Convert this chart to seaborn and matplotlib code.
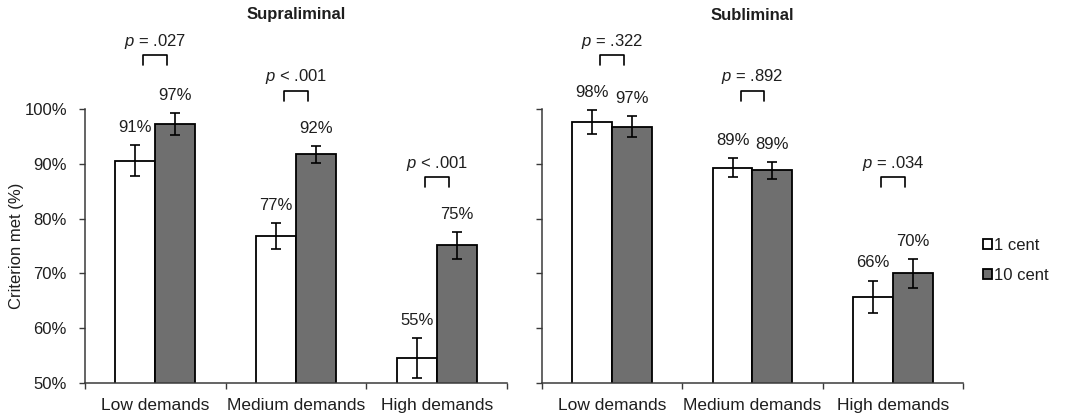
import numpy as np
import pandas as pd
import matplotlib
matplotlib.use("Agg")
import matplotlib.pyplot as plt
import seaborn as sns

# ---------------- data ----------------
demands = ["Low demands", "Medium demands", "High demands"]
rewards = ["1 cent", "10 cent"]
panels = ["Supraliminal", "Subliminal"]

supra_1cent = [90.6, 76.8, 54.6]
supra_10cent = [97.3, 91.7, 75.1]
supra_1cent_err = [2.8, 2.35, 3.6]
supra_10cent_err = [2.0, 1.6, 2.4]

sub_1cent = [97.6, 89.3, 65.7]
sub_10cent = [96.8, 88.8, 70.0]
sub_1cent_err = [2.2, 1.8, 3.0]
sub_10cent_err = [2.0, 1.5, 2.6]

supra_p = ["= .027", "< .001", "< .001"]
sub_p = ["= .322", "= .892", "= .034"]

yticks = [50, 60, 70, 80, 90, 100]
ytick_labels = ["50%", "60%", "70%", "80%", "90%", "100%"]

# ---------------- table ----------------
rows = []
for panel, v1, v10, e1, e10 in [
    ("Supraliminal", supra_1cent, supra_10cent, supra_1cent_err, supra_10cent_err),
    ("Subliminal", sub_1cent, sub_10cent, sub_1cent_err, sub_10cent_err),
]:
    for r, vals, errs in [("1 cent", v1, e1), ("10 cent", v10, e10)]:
        for d, v, e in zip(demands, vals, errs):
            rows.append(dict(panel=panel, demand=d, reward=r, value=v, err=e))
df = pd.DataFrame(rows)
pvals = {"Supraliminal": supra_p, "Subliminal": sub_p}

# ---------------- style ----------------
sns.set_style("white")
plt.rcParams["font.family"] = ["Liberation Sans", "DejaVu Sans"]
plt.rcParams["mathtext.fontset"] = "custom"
plt.rcParams["mathtext.rm"] = "Liberation Sans"
plt.rcParams["mathtext.it"] = "Liberation Sans:italic"
TXT = "#1e1e1e"
SPINE = "#3a3a3a"
FS = 12

fig = plt.figure(figsize=(10.71, 4.19), dpi=100)
ax1 = fig.add_axes([85 / 1071, 36 / 419, 422 / 1071, 274 / 419])
ax2 = fig.add_axes([542 / 1071, 36 / 419, 421 / 1071, 274 / 419])
axes = [ax1, ax2]

# bracket level per demand: above the highest error bar in either panel
tops = (df["value"] + df["err"]).groupby(df["demand"]).max()
bracket_levels = [tops[d] + 10 for d in demands]

for i, (ax, panel) in enumerate(zip(axes, panels)):
    sub = df[df["panel"] == panel]
    sns.barplot(data=sub, x="demand", y="value", hue="reward",
                order=demands, hue_order=rewards,
                palette=["white", "#6f6f6f"], edgecolor="black", linewidth=1.3,
                width=0.57, errorbar=None, ax=ax, legend=(i == 1), zorder=2)

    bars = [p for p in ax.patches if p.get_height() > 0][:6]
    for k, p in enumerate(bars):
        r = rewards[k // 3]
        d = demands[k % 3]
        row = sub[(sub["reward"] == r) & (sub["demand"] == d)].iloc[0]
        x = p.get_x() + p.get_width() / 2
        h = row["value"]
        e = row["err"]
        ax.errorbar(x, h, yerr=e, fmt="none", ecolor="black",
                    elinewidth=1.2, capsize=3.5, capthick=1.2, zorder=3)
        ax.text(x, h + e + 3.2, f"{round(h)}%", ha="center", va="center",
                fontsize=FS, color=TXT, clip_on=False)

    for j, (lvl, p) in enumerate(zip(bracket_levels, pvals[panel])):
        ax.plot([j - 0.085, j - 0.085, j + 0.085, j + 0.085],
                [lvl - 1.8, lvl, lvl, lvl - 1.8],
                color="black", lw=1.2, clip_on=False)
        ax.text(j, lvl + 2.6, f"$p$ {p}", ha="center", va="center",
                fontsize=FS, color=TXT, clip_on=False)

    ax.set_xlim(-0.5, 2.5)
    ax.set_ylim(50, 100)
    ax.set_yticks(yticks)
    ax.set_xticks([0, 1, 2])
    ax.set_xticklabels(demands, fontsize=FS + 0.5, color=TXT)
    ax.set_xticks([-0.5, 0.5, 1.5, 2.5], minor=True)
    ax.tick_params(axis="x", which="major", length=0, pad=11)
    ax.tick_params(axis="x", which="minor", length=4, width=1, color=SPINE,
                   direction="out", bottom=True)
    ax.tick_params(axis="y", length=4, width=1, color=SPINE, direction="out",
                   left=True, pad=9, labelsize=FS, labelcolor=TXT)
    if i == 0:
        ax.set_yticklabels(ytick_labels)
        ax.set_ylabel("Criterion met (%)", fontsize=FS, color=TXT)
        ax.yaxis.set_label_coords((24 - 85) / 422, 0.5)
    else:
        ax.tick_params(axis="y", labelleft=False)
        ax.set_ylabel("")
    ax.set_xlabel("")
    for s in ["top", "right"]:
        ax.spines[s].set_visible(False)
    for s in ["left", "bottom"]:
        ax.spines[s].set_color(SPINE)
        ax.spines[s].set_linewidth(1.1)
    ax.text(0.5, (404 - 36) / 274, panel, transform=ax.transAxes,
            ha="center", va="center", fontsize=FS, fontweight="bold", color=TXT)

# legend
handles, labels = ax2.get_legend_handles_labels()
if ax2.get_legend():
    ax2.get_legend().remove()
fig.legend(handles, labels, loc="center left",
           bbox_to_anchor=(976 / 1071, 1 - 260 / 419),
           bbox_transform=fig.transFigure, frameon=False,
           fontsize=FS, handlelength=0.55, handleheight=0.55,
           handletextpad=0.15, labelspacing=0.9, borderaxespad=0,
           labelcolor=TXT)

fig.savefig("out.png", dpi=100)
